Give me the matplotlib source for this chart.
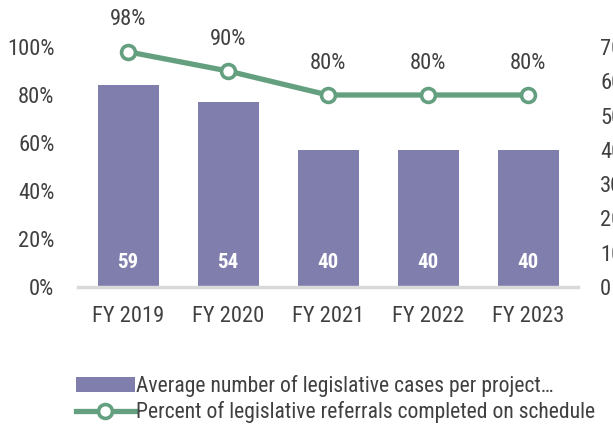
import matplotlib
matplotlib.use("Agg")
import matplotlib.pyplot as plt
from matplotlib.lines import Line2D
from matplotlib.patches import Patch

categories = ["FY 2019", "FY 2020", "FY 2021", "FY 2022", "FY 2023"]
avg_cases = [59, 54, 40, 40, 40]
pct_on_schedule = [98, 90, 80, 80, 80]
left_ticks = [0, 20, 40, 60, 80, 100]
right_ticks = [0, 10, 20, 30, 40, 50, 60, 70]
bar_label = "Average number of legislative cases per project\u2026"
line_label = "Percent of legislative referrals completed on schedule"

plt.rcParams['font.family'] = ['Roboto Condensed', 'Liberation Sans', 'DejaVu Sans']
TXT = "#404040"
BAR = "#7F7EAD"
LINE = "#64A07F"
FS = 16.2

fig = plt.figure(figsize=(6.13, 4.29), dpi=100)
axL = fig.add_axes([78/613, 1-287/429, 500/613, 240/429])
axR = axL.twinx()

x = list(range(len(categories)))
axR.bar(x, avg_cases, width=0.61, color=BAR, zorder=2)
for xi, v in zip(x, avg_cases):
    axR.text(xi, 7, str(v), ha='center', va='center', color='white',
             fontsize=15, fontweight='bold')
axR.set_ylim(0, 70)
axR.set_yticks(right_ticks)
axR.set_yticklabels([str(t) for t in right_ticks])

axL.set_zorder(axR.get_zorder() + 1)
axL.patch.set_visible(False)
axL.plot(x, pct_on_schedule, color=LINE, lw=3.8, marker='o', ms=10,
         mfc='white', mec=LINE, mew=2.6, zorder=3, clip_on=False)
for xi, v in zip(x, pct_on_schedule):
    axL.annotate(f"{v}%", (xi, v), xytext=(0, 23), textcoords='offset points',
                 ha='center', va='center', color=TXT, fontsize=FS)
axL.set_ylim(0, 100)
axL.set_yticks(left_ticks)
axL.set_yticklabels([f"{t}%" for t in left_ticks])
axL.set_xlim(-0.5, 4.5)
axL.set_xticks(x)
axL.set_xticklabels(categories)

for ax in (axL, axR):
    for s in ax.spines.values():
        s.set_visible(False)
    ax.tick_params(length=0, labelsize=FS, labelcolor=TXT)
axL.tick_params(axis='y', pad=17)
axR.tick_params(axis='y', pad=16)
axL.tick_params(axis='x', pad=13.5)
axL.axhline(0, color="#D9D9D9", lw=2.5, zorder=1, clip_on=False)

handles = [Patch(facecolor=BAR, edgecolor='none'),
           Line2D([0], [0], color=LINE, lw=3.8, marker='o', ms=10,
                  mfc='white', mec=LINE, mew=2.6)]
fig.legend(handles, [bar_label, line_label], loc='center left',
           bbox_to_anchor=(76/613, 1-399/429), frameon=False,
           fontsize=15.6, labelcolor=TXT, handlelength=2.7, handletextpad=0.08,
           labelspacing=0.2, borderpad=0, borderaxespad=0)

fig.savefig("out.png", dpi=100)
